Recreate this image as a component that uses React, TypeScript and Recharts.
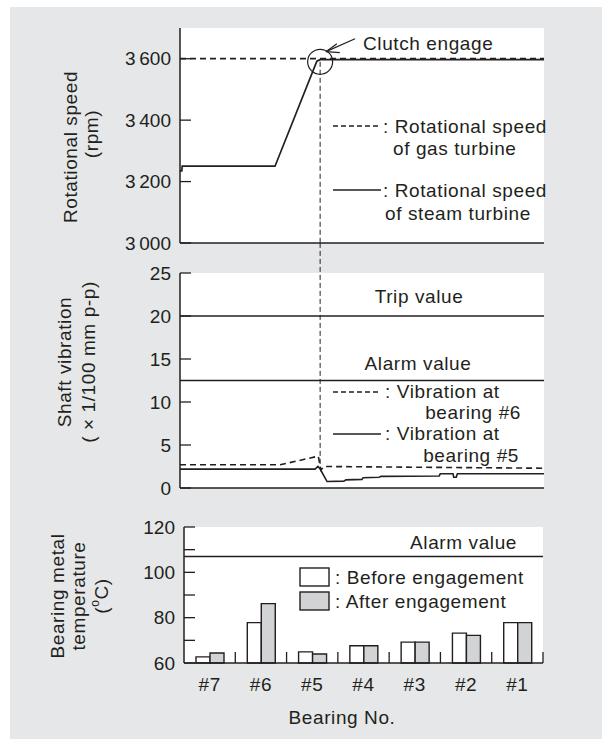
import {
  LineChart,
  Line,
  BarChart,
  Bar,
  XAxis,
  YAxis,
  CartesianGrid,
  ReferenceLine,
  ReferenceDot,
} from "recharts";

const INK = "#231f20";
const PANEL = "#e6e7e8";
const FONT = "'Liberation Sans', Arial, Helvetica, sans-serif";

// time base of the two trend plots (0-100 across the window)
const clutchTime = 38.5;
const clutchSpeed = 3590;

const gasTime = [0, 100];
const gasSpeed = [3600, 3600];
const steamTime = [0, 0.5, 0.6, 26.1, 37.6, 38.5, 100];
const steamSpeed = [3235, 3235, 3250, 3250, 3592, 3597, 3597];
const speedTicks = [3000, 3200, 3400, 3600];

const vib6Time = [0, 27.5, 38, 38.7, 39.6, 100];
const vib6 = [2.7, 2.7, 3.7, 2.1, 2.5, 2.3];
const vib5Time = [0, 37.1, 37.9, 38.5, 40.4, 45, 45.6, 50, 50.3, 54.7, 55.2, 71.2, 71.5, 75, 75.2, 75.9, 76.2, 100];
const vib5 = [2.2, 2.2, 2.5, 2.2, 0.75, 0.8, 0.95, 1.0, 1.2, 1.25, 1.35, 1.4, 1.65, 1.65, 1.25, 1.25, 1.65, 1.65];
const vibTicks = [0, 5, 10, 15, 20, 25];
const tripValue = 20;
const vibAlarm = 12.5;

const bearings = ["#7", "#6", "#5", "#4", "#3", "#2", "#1"];
const tempBefore = [62.7, 77.8, 64.9, 67.6, 69.2, 73.2, 77.8];
const tempAfter = [64.4, 86.2, 64.0, 67.6, 69.2, 72.2, 77.8];
const tempTicks = [60, 70, 80, 90, 100, 110, 120];
const tempAlarm = 107;

const zip = (ts: number[], vs: number[]) => ts.map((t, i) => ({ t, v: vs[i] }));
const tempData = bearings.map((name, i) => ({ name, before: tempBefore[i], after: tempAfter[i] }));

const txt = { fontFamily: FONT, fontSize: 19, fill: INK, letterSpacing: 0.6 } as const;

function InTick(props: any) {
  const { x, y, payload, fmt } = props;
  const ax = x + 9;
  const label = fmt(payload.value);
  return (
    <g>
      <line x1={ax} x2={ax + 11} y1={y} y2={y} stroke={INK} strokeWidth={1.3} />
      {label !== "" && (
        <text x={x} y={y} textAnchor="end" dominantBaseline="central" style={{ ...txt, letterSpacing: 0 }}>
          {label}
        </text>
      )}
    </g>
  );
}

function CatTick(props: any) {
  const { x, y, payload } = props;
  const half = payload.offset || 25.6;
  return (
    <g>
      <line x1={x + half} x2={x + half} y1={y} y2={y - 11} stroke={INK} strokeWidth={1.3} />
      <text x={x} y={y + 21} textAnchor="middle" dominantBaseline="central" style={txt}>
        {payload.value}
      </text>
    </g>
  );
}

const rpmFmt = (v: number) => `${Math.floor(v / 1000)}\u2009${String(v % 1000).padStart(3, "0")}`;
const plainFmt = (v: number) => String(v);
const tempFmt = (v: number) => (v % 20 === 0 ? String(v) : "");

const axisLine = { stroke: INK, strokeWidth: 1.5 };

function SpeedChart() {
  return (
    <LineChart width={602} height={258} margin={{ top: 28, right: 58, bottom: 0, left: 0 }}>
      <CartesianGrid horizontal={false} vertical={false} fill="#fff" fillOpacity={1} />
      <XAxis type="number" dataKey="t" domain={[0, 100]} tick={false} tickLine={false} height={15} axisLine={axisLine} />
      <YAxis
        type="number"
        domain={[3000, 3700]}
        ticks={speedTicks}
        interval={0}
        width={180}
        tickSize={0}
        tickMargin={9}
        axisLine={axisLine}
        tick={(p: any) => <InTick {...p} fmt={rpmFmt} />}
      />
      <ReferenceLine
        segment={[{ x: clutchTime, y: clutchSpeed }, { x: clutchTime, y: 3000 }]}
        stroke={INK}
        strokeWidth={1}
        strokeDasharray="5 3"
      />
      <Line data={zip(gasTime, gasSpeed)} dataKey="v" type="linear" stroke={INK} strokeWidth={1.7} strokeDasharray="6 4" dot={false} isAnimationActive={false} />
      <Line data={zip(steamTime, steamSpeed)} dataKey="v" type="linear" stroke={INK} strokeWidth={1.7} dot={false} isAnimationActive={false} />
      <ReferenceDot x={clutchTime} y={clutchSpeed} r={12.5} fill="none" stroke={INK} strokeWidth={1.2} />
      <ReferenceLine segment={[{ x: 40.1, y: 3623 }, { x: 48.1, y: 3665 }]} stroke={INK} strokeWidth={1.2} />
      <ReferenceLine segment={[{ x: 40.1, y: 3623 }, { x: 43.1, y: 3649 }]} stroke={INK} strokeWidth={1.2} />
      <ReferenceLine segment={[{ x: 40.1, y: 3623 }, { x: 43.9, y: 3620 }]} stroke={INK} strokeWidth={1.2} />
    </LineChart>
  );
}

function VibrationChart() {
  return (
    <LineChart width={602} height={260} margin={{ top: 30, right: 58, bottom: 0, left: 0 }}>
      <CartesianGrid horizontal={false} vertical={false} fill="#fff" fillOpacity={1} />
      <XAxis type="number" dataKey="t" domain={[0, 100]} tick={false} tickLine={false} height={15} axisLine={axisLine} />
      <YAxis
        type="number"
        domain={[0, 25]}
        ticks={vibTicks}
        interval={0}
        width={180}
        tickSize={0}
        tickMargin={9}
        axisLine={axisLine}
        tick={(p: any) => <InTick {...p} fmt={plainFmt} />}
      />
      <ReferenceLine y={tripValue} stroke={INK} strokeWidth={1.5} />
      <ReferenceLine y={vibAlarm} stroke={INK} strokeWidth={1.5} />
      <ReferenceLine
        segment={[{ x: clutchTime, y: 28.5 }, { x: clutchTime, y: 2.6 }]}
        ifOverflow="visible"
        stroke={INK}
        strokeWidth={1}
        strokeDasharray="5 3"
      />
      <Line data={zip(vib6Time, vib6)} dataKey="v" type="linear" stroke={INK} strokeWidth={1.6} strokeDasharray="6 4" dot={false} isAnimationActive={false} />
      <Line data={zip(vib5Time, vib5)} dataKey="v" type="linear" stroke={INK} strokeWidth={1.6} dot={false} isAnimationActive={false} />
    </LineChart>
  );
}

function TemperatureChart() {
  return (
    <BarChart width={602} height={200} data={tempData} barGap={0} margin={{ top: 27, right: 59, bottom: 0, left: 0 }}>
      <CartesianGrid horizontal={false} vertical={false} fill="#fff" fillOpacity={1} />
      <XAxis dataKey="name" type="category" height={37} tickSize={0} tickMargin={0} interval={0} axisLine={axisLine} tick={(p: any) => <CatTick {...p} />} />
      <YAxis
        type="number"
        domain={[60, 120]}
        ticks={tempTicks}
        interval={0}
        width={184}
        tickSize={0}
        tickMargin={9}
        axisLine={axisLine}
        tick={(p: any) => <InTick {...p} fmt={tempFmt} />}
      />
      <ReferenceLine y={tempAlarm} stroke={INK} strokeWidth={1.5} />
      <Bar dataKey="before" barSize={14} fill="#ffffff" stroke={INK} strokeWidth={1.4} isAnimationActive={false} />
      <Bar dataKey="after" barSize={14} fill="#d1d3d4" stroke={INK} strokeWidth={1.4} isAnimationActive={false} />
    </BarChart>
  );
}

function Annotations() {
  return (
    <svg width={602} height={740} style={{ position: "absolute", left: 0, top: 0, pointerEvents: "none" }}>
      <g style={txt}>
        <text transform="translate(70,147) rotate(-90)" textAnchor="middle" dominantBaseline="central">Rotational speed</text>
        <text transform="translate(91,134) rotate(-90)" textAnchor="middle" dominantBaseline="central">(rpm)</text>
        <text transform="translate(64,362) rotate(-90)" textAnchor="middle" dominantBaseline="central">Shaft vibration</text>
        <text transform="translate(88,362) rotate(-90)" textAnchor="middle" dominantBaseline="central">( × 1/100 mm p-p)</text>
        <text transform="translate(57,596) rotate(-90)" textAnchor="middle" dominantBaseline="central">Bearing metal</text>
        <text transform="translate(78,596) rotate(-90)" textAnchor="middle" dominantBaseline="central">temperature</text>
        <text transform="translate(101,596) rotate(-90)" textAnchor="middle" dominantBaseline="central">
          (<tspan fontSize={12} dy={-6}>o</tspan>
          <tspan dy={6}>C)</tspan>
        </text>

        <text x={363} y={43} dominantBaseline="central">Clutch engage</text>
        <text x={383} y={126} dominantBaseline="central">: Rotational speed</text>
        <text x={393} y={148} dominantBaseline="central">of gas turbine</text>
        <text x={383} y={190} dominantBaseline="central">: Rotational speed</text>
        <text x={385} y={213} dominantBaseline="central">of steam turbine</text>

        <text x={419} y={296} textAnchor="middle" dominantBaseline="central">Trip value</text>
        <text x={418} y={363} textAnchor="middle" dominantBaseline="central">Alarm value</text>
        <text x={385} y={391} dominantBaseline="central">: Vibration at</text>
        <text x={521} y={412} textAnchor="end" dominantBaseline="central">bearing #6</text>
        <text x={385} y={433} dominantBaseline="central">: Vibration at</text>
        <text x={519} y={455} textAnchor="end" dominantBaseline="central">bearing #5</text>

        <text x={517} y={542} textAnchor="end" dominantBaseline="central">Alarm value</text>
        <text x={335} y={577} dominantBaseline="central">: Before engagement</text>
        <text x={335} y={601} dominantBaseline="central">: After engagement</text>
        <text x={342} y={717} textAnchor="middle" dominantBaseline="central">Bearing No.</text>
      </g>
      <line x1={333} x2={381} y1={126} y2={126} stroke={INK} strokeWidth={1.6} strokeDasharray="5 3" />
      <line x1={333} x2={381} y1={190} y2={190} stroke={INK} strokeWidth={1.6} />
      <line x1={333} x2={381} y1={392} y2={392} stroke={INK} strokeWidth={1.6} strokeDasharray="5 3" />
      <line x1={333} x2={381} y1={434} y2={434} stroke={INK} strokeWidth={1.6} />
      <rect x={300} y={568} width={29} height={18} fill="#fff" stroke={INK} strokeWidth={1.4} />
      <rect x={300} y={592} width={29} height={18} fill="#d1d3d4" stroke={INK} strokeWidth={1.4} />
    </svg>
  );
}

export default function App() {
  return (
    <div style={{ position: "absolute", left: 0, top: 0, width: 602, height: 740, fontFamily: FONT }}>
      <div style={{ position: "absolute", left: 10, top: 7, width: 592, height: 732, background: PANEL }} />
      <div style={{ position: "absolute", left: 0, top: 0 }}>
        <SpeedChart />
      </div>
      <div style={{ position: "absolute", left: 0, top: 243 }}>
        <VibrationChart />
      </div>
      <div style={{ position: "absolute", left: 0, top: 500 }}>
        <TemperatureChart />
      </div>
      <Annotations />
    </div>
  );
}
